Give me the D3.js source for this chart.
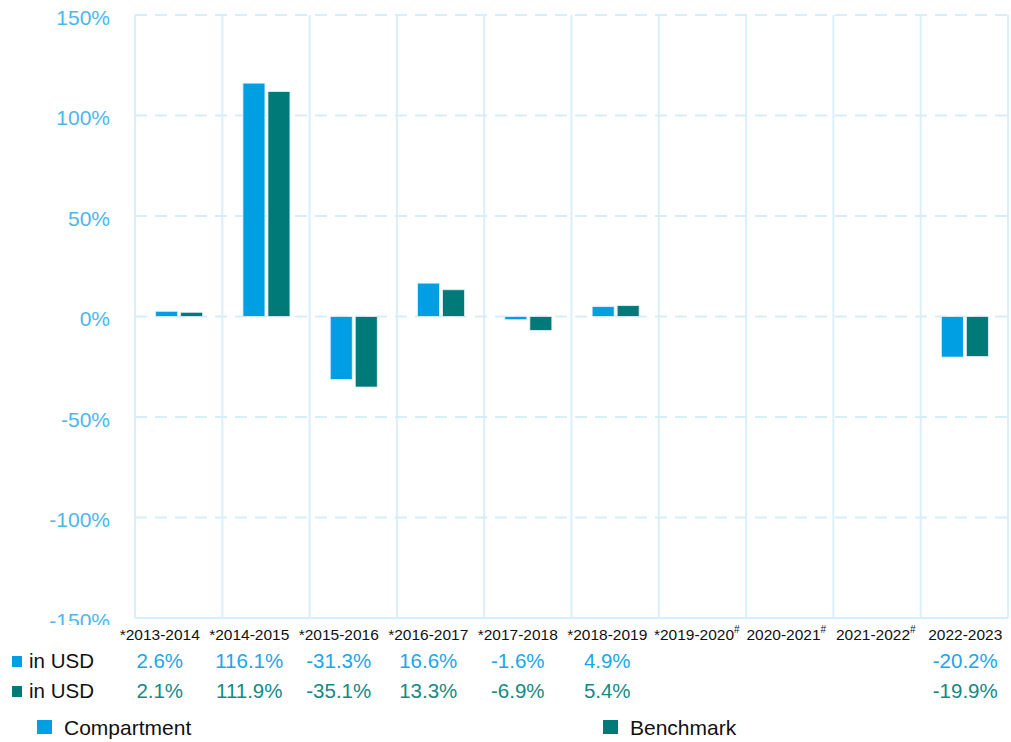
<!DOCTYPE html>
<html><head><meta charset="utf-8">
<script src="https://cdn.jsdelivr.net/npm/d3@7"></script>
<style>body{margin:0;background:#fff;font-family:"Liberation Sans",Arial,sans-serif;}</style>
</head><body><svg id="c" width="1011" height="742"></svg>
<script>
const categories = ["*2013-2014","*2014-2015","*2015-2016","*2016-2017","*2017-2018","*2018-2019","*2019-2020#","2020-2021#","2021-2022#","2022-2023"];
const compartment = [2.6,116.1,-31.3,16.6,-1.6,4.9,null,null,null,-20.2];
const benchmark = [2.1,111.9,-35.1,13.3,-6.9,5.4,null,null,null,-19.9];
const yTicks = [150,100,50,0,-50,-100,-150];
const seriesNames = ["Compartment","Benchmark"];
const rowLabels = ["in USD","in USD"];

const C1 = "#009fe3", C2 = "#007a78";
const T1 = "#1ba6ea", T2 = "#138a84";
const svg = d3.select("#c");
const L = 135, R = 1008, T = 15, B = 618;
const x = d3.scaleBand().domain(categories).range([L,R]).padding(0);
const xt = d3.scaleBand().domain(categories).range([115,1010]).padding(0);
const y = d3.scaleLinear().domain([-150,150]).range([B,T]);

// vertical grid
const bounds = categories.map(c=>x(c)).concat([R]);
svg.append("g").selectAll("line").data(bounds).join("line")
  .attr("x1",d=>d).attr("x2",d=>d).attr("y1",T).attr("y2",B)
  .attr("stroke","#dbeffb").attr("stroke-width",2);
// horizontal grid
svg.append("g").selectAll("line").data(yTicks).join("line")
  .attr("x1",L).attr("x2",R).attr("y1",d=>y(d)).attr("y2",d=>y(d))
  .attr("stroke","#d6edfa").attr("stroke-width",2)
  .attr("stroke-dasharray",d=>d===-150?null:"12,8");

// y labels (clipped)
svg.append("clipPath").attr("id","yc").append("rect").attr("x",0).attr("y",0).attr("width",130).attr("height",625);
svg.append("g").attr("clip-path","url(#yc)").selectAll("text").data(yTicks).join("text")
  .attr("x",110).attr("y",d=>y(d)+9.5).attr("text-anchor","end")
  .attr("fill","#4bb7ee").attr("font-size",21).text(d=>d+"%");

const bw = 22, gap = 3;
function bars(data, color, off){
  svg.append("g").selectAll("rect").data(data.map((v,i)=>({v,c:categories[i]})).filter(d=>d.v!==null)).join("rect")
    .attr("x",d=>x(d.c)+x.bandwidth()/2+off)
    .attr("width",bw)
    .attr("y",d=>y(Math.max(0,d.v)))
    .attr("height",d=>Math.abs(y(d.v)-y(0)))
    .attr("fill",color).attr("stroke","#e0f0f8").attr("stroke-width",0.8);
}
bars(compartment,C1,-bw-gap/2+0.5);
bars(benchmark,C2,gap/2+0.5);

// x labels
const xl = svg.append("g").selectAll("text").data(categories).join("text")
  .attr("x",d=>xt(d)+xt.bandwidth()/2).attr("y",640).attr("text-anchor","middle")
  .attr("font-size",15.5).attr("fill","#111");
xl.each(function(d){
  const t = d3.select(this);
  if(d.endsWith("#")){
    t.append("tspan").text(d.slice(0,-1));
    t.append("tspan").attr("font-size",10).attr("dy",-7).text("#");
  } else t.text(d);
});

// value rows
[[compartment,T1,C1,668],[benchmark,T2,C2,698]].forEach(([data,tc,sc,yy],k)=>{
  svg.append("rect").attr("x",12).attr("y",yy-12).attr("width",10).attr("height",11).attr("fill",sc);
  svg.append("text").attr("x",29).attr("y",yy).attr("font-size",20.5).attr("fill","#111").text(rowLabels[k]);
  svg.append("g").selectAll("text").data(data.map((v,i)=>({v,c:categories[i]})).filter(d=>d.v!==null)).join("text")
    .attr("x",d=>xt(d.c)+xt.bandwidth()/2).attr("y",yy).attr("text-anchor","middle")
    .attr("font-size",20.5).attr("fill",tc).text(d=>d.v.toFixed(1)+"%");
});

// legend
const lg = [[seriesNames[0],C1,37],[seriesNames[1],C2,603]];
lg.forEach(([n,c,lx])=>{
  svg.append("rect").attr("x",lx).attr("y",720).attr("width",15).attr("height",14).attr("fill",c);
  svg.append("text").attr("x",lx+27).attr("y",735).attr("font-size",21).attr("fill","#111").text(n);
});
</script></body></html>
